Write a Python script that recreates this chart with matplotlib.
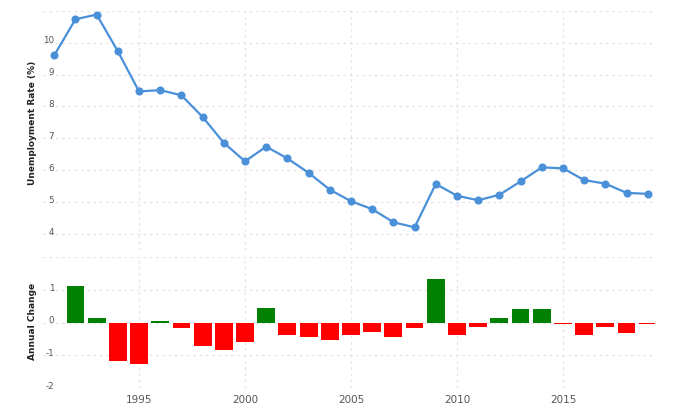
import matplotlib

matplotlib.use('Agg')

import matplotlib.pyplot as plt
import matplotlib.transforms as mtransforms

plt.rcParams['axes.unicode_minus'] = False

years = list(range(1991, 2020))
rate = [9.60, 10.73, 10.88, 9.73, 8.47, 8.51, 8.35, 7.67, 6.86, 6.28,
        6.74, 6.37, 5.92, 5.39, 5.03, 4.78, 4.37, 4.21, 5.57, 5.20,
        5.06, 5.23, 5.65, 6.09, 6.06, 5.69, 5.58, 5.29, 5.26]
change_years = list(range(1992, 2020))
change = [1.13, 0.15, -1.16, -1.27, 0.05, -0.15, -0.71, -0.82, -0.59,
          0.45, -0.38, -0.45, -0.54, -0.37, -0.27, -0.43, -0.15, 1.34,
          -0.37, -0.14, 0.14, 0.43, 0.42, -0.04, -0.37, -0.13, -0.30, -0.04]
xticks = [1995, 2000, 2005, 2010, 2015]
rate_ticks = [4, 5, 6, 7, 8, 9, 10]
change_ticks = [-2, -1, 0, 1]

line_color = '#4a90d9'
grid_color = '#e3e3e3'
label_color = '#555555'

fig = plt.figure(figsize=(7, 4.15), dpi=100)
ax1 = fig.add_axes([0.0614, 0.3976, 0.8743, 0.5766])
ax2 = fig.add_axes([0.0614, 0.0643, 0.8743, 0.3164])

xlim = (1990.47, 2019.34)


def style_axis(ax, yticks, top):
    ax.set_xlim(*xlim)
    for s in ax.spines.values():
        s.set_visible(False)
    ax.set_yticks(yticks)
    ax.set_xticks(xticks)
    ax.tick_params(length=0, labelcolor=label_color)
    ax.tick_params(axis='y', labelsize=6.3, pad=-8)
    for x in xticks:
        ax.axvline(x, color=grid_color, lw=0.9, ls=(0, (2, 3)), zorder=0)
    for y in list(yticks) + [top]:
        ax.axhline(y, color=grid_color, lw=0.9, ls=(0, (2, 3)), zorder=0)
    off = mtransforms.ScaledTranslation(0, 2 / 72, fig.dpi_scale_trans)
    for lab in ax.get_yticklabels():
        lab.set_transform(lab.get_transform() + off)


# top: unemployment rate
ax1.plot(years, rate, color=line_color, lw=1.6, marker='o', ms=4.8, zorder=3)
ax1.set_ylim(3.5, 11)
style_axis(ax1, rate_ticks, 11)
ax1.set_xticklabels([])

# bottom: annual change
colors = ['#008000' if v >= 0 else '#ff0000' for v in change]
ax2.bar(change_years, change, width=0.84, color=colors, edgecolor='none', zorder=3)
ax2.set_ylim(-2, 2)
style_axis(ax2, change_ticks, 2)
ax2.tick_params(axis='x', labelsize=7.5, pad=5)

fig.text(0.047, 0.705, 'Unemployment Rate (%)', rotation=90, ha='center', va='center',
         fontsize=6.5, fontweight='bold', color='#222222')
fig.text(0.047, 0.225, 'Annual Change', rotation=90, ha='center', va='center',
         fontsize=6.5, fontweight='bold', color='#222222')

fig.savefig('out.png', dpi=100)
